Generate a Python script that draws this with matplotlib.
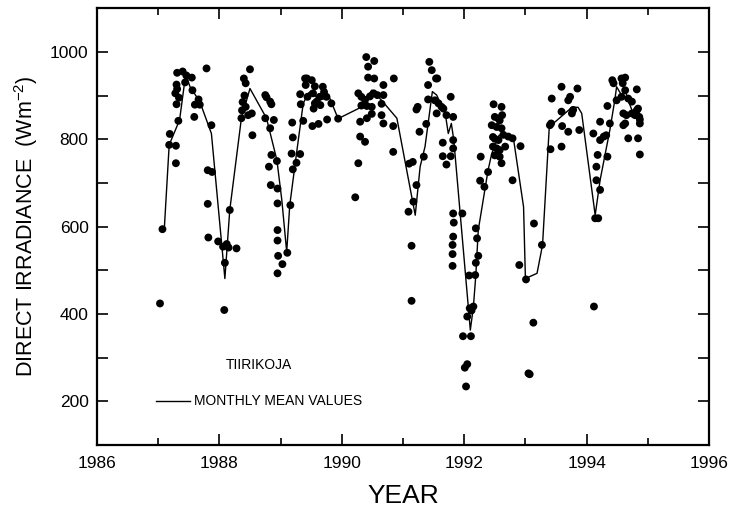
import matplotlib
matplotlib.use("Agg")
import matplotlib.pyplot as plt
from matplotlib.ticker import MultipleLocator

plt.rcParams['font.family'] = ['Liberation Sans', 'DejaVu Sans']
plt.rcParams['mathtext.fontset'] = 'custom'
plt.rcParams['mathtext.rm'] = 'Liberation Sans'
plt.rcParams['mathtext.it'] = 'Liberation Sans'

# Individual observations (year, direct irradiance W m-2)
point_year = [
    1987.03, 1987.07, 1987.18, 1987.19, 1987.29, 1987.29, 1987.33, 1987.30, 1987.28, 1987.31,
    1987.30, 1987.34, 1987.31, 1987.40, 1987.46, 1987.55, 1987.44, 1987.56, 1987.59, 1987.66,
    1987.68, 1987.60, 1987.79, 1987.87, 1987.81, 1987.88, 1987.81, 1987.82, 1987.98, 1988.06,
    1988.12, 1988.15, 1988.28, 1988.09, 1988.08, 1988.17, 1988.36, 1988.40, 1988.43, 1988.41,
    1988.38, 1988.37, 1988.43, 1988.50, 1988.53, 1988.54, 1988.47, 1988.75, 1988.77, 1988.83,
    1988.85, 1988.75, 1988.89, 1988.83, 1988.85, 1988.81, 1988.94, 1988.84, 1988.95, 1988.95,
    1988.95, 1988.95, 1988.96, 1989.03, 1988.95, 1989.11, 1989.16, 1989.20, 1989.18, 1989.20,
    1989.19, 1989.26, 1989.32, 1989.32, 1989.40, 1989.41, 1989.33, 1989.44, 1989.37, 1989.51,
    1989.43, 1989.56, 1989.53, 1989.59, 1989.64, 1989.69, 1989.71, 1989.54, 1989.56, 1989.65,
    1989.52, 1989.62, 1989.75, 1989.76, 1989.83, 1989.94, 1990.40, 1990.53, 1990.43, 1990.43,
    1990.53, 1990.68, 1990.85, 1990.27, 1990.32, 1990.38, 1990.46, 1990.52, 1990.58, 1990.32,
    1990.41, 1990.49, 1990.65, 1990.30, 1990.41, 1990.49, 1990.68, 1990.65, 1990.68, 1990.84,
    1990.30, 1990.38, 1990.27, 1990.22, 1990.84, 1991.09, 1991.14, 1991.14, 1991.17, 1991.22,
    1991.10, 1991.16, 1991.24, 1991.22, 1991.27, 1991.34, 1991.38, 1991.41, 1991.43, 1991.47,
    1991.54, 1991.56, 1991.41, 1991.52, 1991.58, 1991.63, 1991.66, 1991.55, 1991.78, 1991.71,
    1991.82, 1991.65, 1991.65, 1991.71, 1991.78, 1991.82, 1991.82, 1991.82, 1991.83, 1991.82,
    1991.81, 1991.81, 1991.81, 1991.97, 1991.98, 1992.11, 1992.01, 1992.05, 1992.03, 1992.05,
    1992.09, 1992.15, 1992.12, 1992.08, 1992.18, 1992.19, 1992.23, 1992.21, 1992.19, 1992.26,
    1992.33, 1992.27, 1992.39, 1992.48, 1992.61, 1992.50, 1992.56, 1992.58, 1992.45, 1992.53,
    1992.61, 1992.47, 1992.50, 1992.56, 1992.47, 1992.53, 1992.58, 1992.50, 1992.58, 1992.61,
    1992.62, 1992.64, 1992.67, 1992.72, 1992.79, 1992.79, 1992.92, 1992.90, 1993.01, 1993.13,
    1993.05, 1993.07, 1993.27, 1993.14, 1993.41, 1993.40, 1993.42, 1993.43, 1993.59, 1993.59,
    1993.60, 1993.59, 1993.70, 1993.73, 1993.70, 1993.76, 1993.78, 1993.85, 1993.88, 1994.11,
    1994.22, 1994.22, 1994.16, 1994.18, 1994.28, 1994.32, 1994.34, 1994.22, 1994.16, 1994.14,
    1994.19, 1994.12, 1994.34, 1994.38, 1994.42, 1994.44, 1994.57, 1994.63, 1994.59, 1994.49,
    1994.63, 1994.57, 1994.68, 1994.74, 1994.82, 1994.60, 1994.65, 1994.60, 1994.63, 1994.74,
    1994.79, 1994.84, 1994.86, 1994.82, 1994.87, 1994.87, 1994.68, 1994.84, 1994.87,
]
point_value = [
    424, 594, 787, 812, 785, 745, 842, 880, 905, 915,
    925, 895, 952, 955, 946, 941, 930, 912, 851, 891,
    879, 879, 962, 832, 729, 725, 652, 575, 566, 554,
    560, 552, 550, 517, 409, 638, 848, 939, 928, 900,
    885, 866, 874, 960, 859, 809, 855, 901, 896, 886,
    880, 848, 844, 825, 764, 737, 750, 695, 687, 653,
    592, 568, 533, 514, 493, 540, 649, 731, 767, 804,
    838, 746, 766, 903, 939, 924, 880, 897, 842, 935,
    939, 921, 905, 886, 897, 920, 908, 870, 882, 878,
    830, 835, 897, 845, 882, 847, 988, 979, 966, 941,
    939, 924, 939, 905, 897, 890, 898, 905, 901, 877,
    876, 874, 881, 840, 848, 858, 901, 855, 836, 830,
    806, 794, 745, 667, 771, 634, 556, 430, 657, 695,
    744, 748, 874, 868, 817, 760, 835, 924, 977, 958,
    939, 939, 891, 889, 882, 874, 870, 859, 897, 855,
    851, 792, 761, 742, 761, 798, 779, 630, 609, 577,
    558, 537, 510, 630, 349, 349, 277, 285, 234, 394,
    413, 417, 408, 488, 489, 517, 533, 573, 596, 705,
    691, 760, 725, 880, 874, 851, 847, 843, 832, 828,
    825, 805, 801, 798, 783, 779, 775, 763, 760, 745,
    855, 810, 783, 806, 802, 706, 784, 512, 479, 380,
    264, 262, 558, 607, 777, 832, 836, 893, 920, 863,
    830, 783, 889, 897, 817, 859, 867, 916, 821, 813,
    840, 798, 737, 764, 806, 809, 760, 684, 706, 619,
    619, 417, 876, 836, 935, 928, 939, 941, 928, 889,
    912, 897, 893, 886, 914, 859, 855, 832, 836, 859,
    855, 870, 851, 866, 845, 836, 802, 802, 765,
]

# Monthly mean values
mean_year = [
    1987.10, 1987.18, 1987.35, 1987.45, 1987.52, 1987.68, 1987.87, 1988.09, 1988.17, 1988.36,
    1988.50, 1988.77, 1988.94, 1989.02, 1989.10, 1989.15, 1989.26, 1989.37, 1989.45, 1989.50,
    1989.62, 1989.80, 1989.94, 1990.27, 1990.49, 1990.65, 1990.90, 1991.20, 1991.28, 1991.36,
    1991.48, 1991.55, 1991.69, 1991.74, 1991.79, 1991.83, 1992.10, 1992.15, 1992.19, 1992.23,
    1992.39, 1992.45, 1992.57, 1992.72, 1992.80, 1992.97, 1993.00, 1993.19, 1993.28, 1993.39,
    1993.76, 1993.86, 1993.92, 1994.14, 1994.22, 1994.38, 1994.46, 1994.49, 1994.57, 1994.63,
    1994.68, 1994.76,
]
mean_value = [
    594, 787, 844, 949, 920, 886, 813, 481, 638, 848,
    916, 848, 752, 661, 542, 649, 767, 882, 905, 910,
    890, 895, 847, 870, 912, 889, 848, 626, 737, 783,
    909, 901, 859, 813, 836, 798, 363, 416, 489, 592,
    729, 767, 809, 806, 806, 645, 481, 493, 558, 828,
    873, 873, 859, 626, 706, 821, 889, 920, 901, 912,
    889, 859,
]

x_major = [1986, 1988, 1990, 1992, 1994, 1996]
y_major = [200, 400, 600, 800, 1000]

fig = plt.figure(figsize=(7.29, 5.08), dpi=100)
ax = fig.add_axes([0.133, 0.124, 0.8396, 0.860])

ax.plot(mean_year, mean_value, color='black', linewidth=1.0, zorder=2)
ax.scatter(point_year, point_value, s=32, color='black', edgecolors='none', zorder=3)

ax.set_xlim(1986, 1996)
ax.set_ylim(100, 1100)
ax.set_xticks(x_major)
ax.set_xticklabels([str(v) for v in x_major])
ax.xaxis.set_minor_locator(MultipleLocator(1))
ax.set_yticks(y_major)
ax.set_yticklabels([str(v) for v in y_major])
ax.yaxis.set_minor_locator(MultipleLocator(100))

ax.tick_params(which='both', direction='in', top=True, right=True, width=1.2, labelsize=12.5)
ax.tick_params(axis='x', which='major', length=8, pad=8)
ax.tick_params(axis='x', which='minor', length=5)
ax.tick_params(axis='y', which='both', length=8, pad=6)
for s in ax.spines.values():
    s.set_linewidth(1.6)

ax.set_xlabel('YEAR', fontsize=19, labelpad=9)
ax.set_ylabel(r'DIRECT IRRADIANCE  (Wm$^{-2}$)', fontsize=15.5, labelpad=7)

ax.text(1988.1, 283, 'TIIRIKOJA', fontsize=10, va='center', ha='left')
ax.plot([1986.97, 1987.52], [200, 200], color='black', linewidth=1.0)
ax.text(1987.58, 200, 'MONTHLY MEAN VALUES', fontsize=10, va='center', ha='left')

fig.savefig('out.png', dpi=100)
